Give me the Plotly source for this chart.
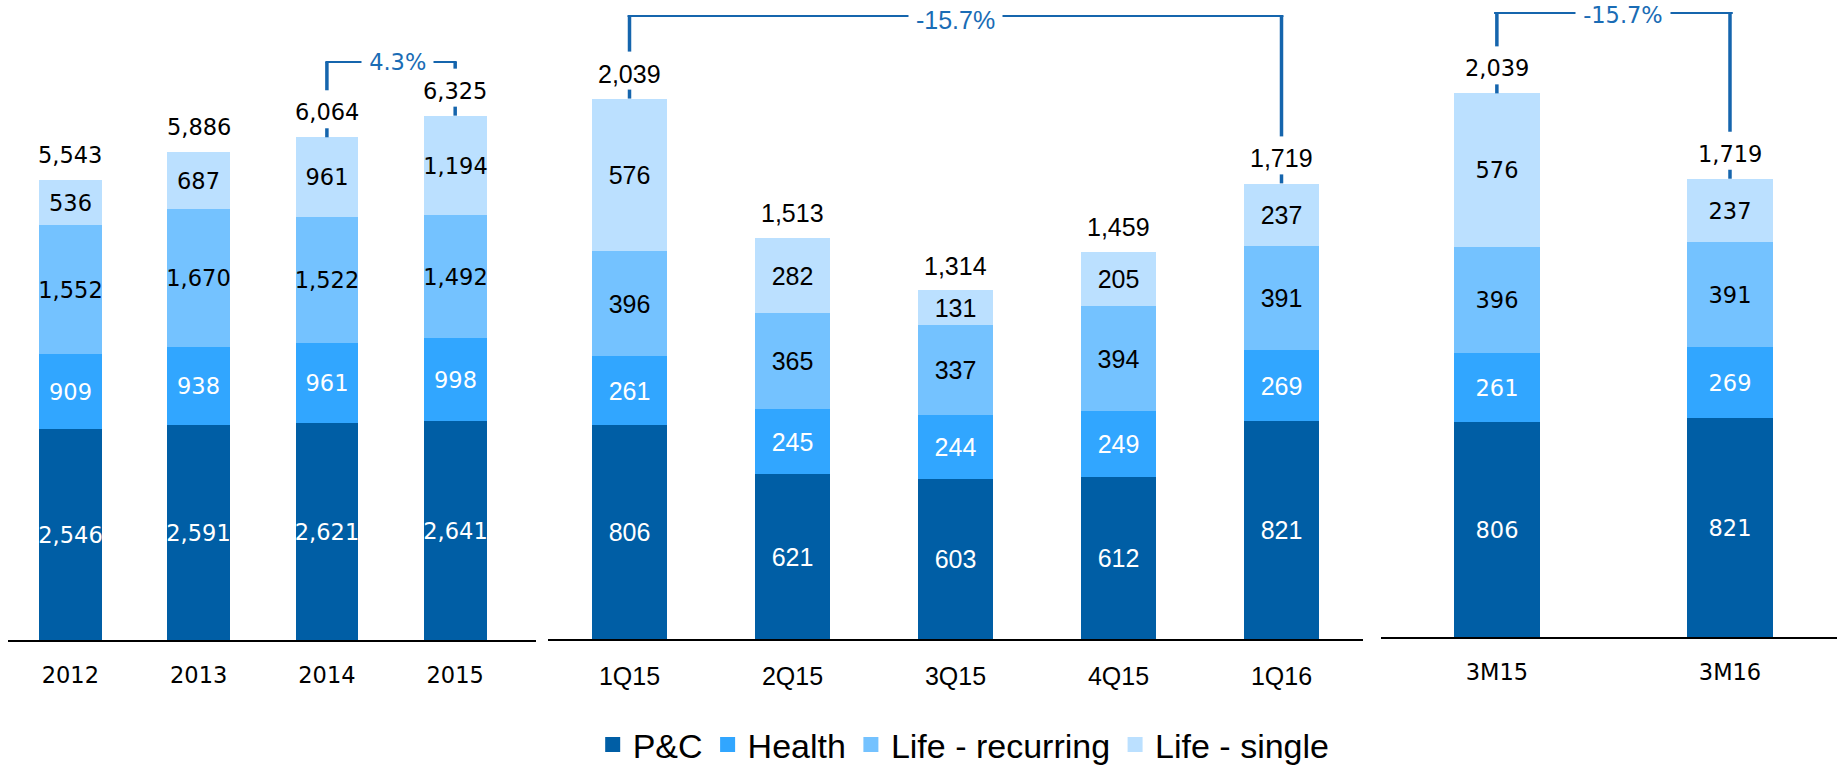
import plotly.graph_objects as go

# ---------------- data ----------------
series = ["P&C", "Health", "Life - recurring", "Life - single"]

cat_years = ["2012", "2013", "2014", "2015"]
years_pc = [2546, 2591, 2621, 2641]
years_health = [909, 938, 961, 998]
years_liferec = [1552, 1670, 1522, 1492]
years_lifesingle = [536, 687, 961, 1194]
years_total = [5543, 5886, 6064, 6325]

cat_q = ["1Q15", "2Q15", "3Q15", "4Q15", "1Q16"]
q_pc = [806, 621, 603, 612, 821]
q_health = [261, 245, 244, 249, 269]
q_liferec = [396, 365, 337, 394, 391]
q_lifesingle = [576, 282, 131, 205, 237]
q_total = [2039, 1513, 1314, 1459, 1719]

cat_m = ["3M15", "3M16"]
m_pc = [806, 821]
m_health = [261, 269]
m_liferec = [396, 391]
m_lifesingle = [576, 237]
m_total = [2039, 1719]

growth_years = "4.3%"
growth_q = "-15.7%"
growth_m = "-15.7%"

# ---------------- style ----------------
W, H = 1837, 765
colors = ["#005EA5", "#31A6FF", "#74C2FF", "#BBE0FF"]
text_colors = ["white", "white", "black", "black"]
line_color = "#1565AD"
pct_color = "#1A6CB5"
FONT_WIDE = "DejaVu Sans"
FONT_ARIAL = "Liberation Sans, Arial"

panels = [
    dict(xa="x", ya="y", cats=cat_years,
         data=[years_pc, years_health, years_liferec, years_lifesingle], total=years_total,
         xdom=[8 / W, 536 / W], xrange=[-0.486, 3.63], ydom=[(H - 640) / H, 1.0], ymax=7720,
         width=0.489, font=FONT_WIDE, fsize=22.5,
         bracket=(2, 3), level=6972, pct=growth_years, pct_x=2.55, pct_shift=0),
    dict(xa="x2", ya="y2", cats=cat_q,
         data=[q_pc, q_health, q_liferec, q_lifesingle], total=q_total,
         xdom=[548 / W, 1363 / W], xrange=[-0.5, 4.5], ydom=[(H - 639) / H, 1.0], ymax=2411,
         width=0.464, font=FONT_ARIAL, fsize=25,
         bracket=(0, 4), level=2351, pct=growth_q, pct_x=2.0, pct_shift=-4),
    dict(xa="x3", ya="y3", cats=cat_m,
         data=[m_pc, m_health, m_liferec, m_lifesingle], total=m_total,
         xdom=[1381 / W, 1.0], xrange=[-0.497, 1.459], ydom=[(H - 637.3) / H, 1.0], ymax=2389,
         width=0.368, font=FONT_WIDE, fsize=22.5,
         bracket=(0, 1), level=2340, pct=growth_m, pct_x=0.54, pct_shift=-2),
]

fig = go.Figure()
annotations = []
shapes = []

for pi, p in enumerate(panels):
    for si, name in enumerate(series):
        vals = p["data"][si]
        fig.add_trace(go.Bar(
            x=p["cats"], y=vals, name=name,
            xaxis=p["xa"], yaxis=p["ya"],
            marker=dict(color=colors[si], line=dict(width=0)),
            width=p["width"],
            text=[f"{v:,}" for v in vals],
            textposition="inside", insidetextanchor="middle",
            textangle=0, constraintext="none",
            textfont=dict(family=p["font"], size=p["fsize"], color=text_colors[si]),
            showlegend=False, legendgroup=name,
            hoverinfo="skip",
        ))
    # totals (x given as category index)
    for idx, t in enumerate(p["total"]):
        annotations.append(dict(
            x=idx, y=t, xref=p["xa"], yref=p["ya"], text=f"{t:,}",
            showarrow=False, yshift=25, yanchor="middle",
            font=dict(family=p["font"], size=p["fsize"], color="black")))

    # bracket
    ppu = (p["ydom"][1] - p["ydom"][0]) * H / p["ymax"]  # pixels per unit
    gap = 47 / ppu
    stub = 9 / ppu
    i0, i1 = p["bracket"]
    for idx in (i0, i1):
        t = p["total"][idx]
        shapes.append(dict(type="line", xref=p["xa"], yref=p["ya"],
                           x0=idx, x1=idx, y0=t + gap, y1=p["level"],
                           line=dict(color=line_color, width=3.5)))
        shapes.append(dict(type="line", xref=p["xa"], yref=p["ya"],
                           x0=idx, x1=idx, y0=t, y1=t + stub,
                           line=dict(color=line_color, width=3.5)))
    shapes.append(dict(type="line", xref=p["xa"], yref=p["ya"],
                       x0=i0 - 0.012, x1=i1 + 0.012, y0=p["level"], y1=p["level"],
                       line=dict(color=line_color, width=2)))
    annotations.append(dict(
        x=p["pct_x"], y=p["level"], xref=p["xa"], yref=p["ya"], text="\u00a0" + p["pct"] + "\u00a0",
        showarrow=False, yanchor="middle", bgcolor="white", borderpad=0, yshift=p["pct_shift"],
        font=dict(family=p["font"], size=p["fsize"], color=pct_color)))

# legend entries (square swatches)
for si, name in enumerate(series):
    fig.add_trace(go.Scatter(
        x=[None], y=[None], mode="markers", name=name, legendgroup=name,
        marker=dict(symbol="square", size=15, color=colors[si]),
        xaxis="x", yaxis="y", showlegend=True, hoverinfo="skip"))

layout = dict(
    width=W, height=H,
    margin=dict(l=0, r=0, t=0, b=0, pad=0, autoexpand=False),
    paper_bgcolor="white", plot_bgcolor="white",
    barmode="stack", bargap=0,
    showlegend=True,
    legend=dict(orientation="h", x=0.5246, xanchor="center", y=(H - 745) / H, yanchor="middle",
                font=dict(family=FONT_ARIAL, size=34, color="black"),
                itemclick=False, itemdoubleclick=False, traceorder="normal",
                itemwidth=30, tracegroupgap=0),
    annotations=annotations, shapes=shapes,
)

for k, p in enumerate(panels):
    sfx = "" if k == 0 else str(k + 1)
    layout["xaxis" + sfx] = dict(
        domain=p["xdom"], range=p["xrange"], type="category",
        showline=True, linecolor="black", linewidth=2,
        showgrid=False, zeroline=False, ticks="",
        tickfont=dict(family=p["font"], size=p["fsize"], color="black"),
        ticklabelstandoff=14,
        anchor="y" + sfx, fixedrange=True)
    layout["yaxis" + sfx] = dict(
        domain=p["ydom"], range=[0, p["ymax"]],
        visible=False, showgrid=False, zeroline=False,
        anchor="x" + sfx, fixedrange=True)

fig.update_layout(**layout)
fig.write_html("out.html", config={"displayModeBar": False},
               post_script="document.body.style.margin='0';document.body.style.overflow='hidden';")
